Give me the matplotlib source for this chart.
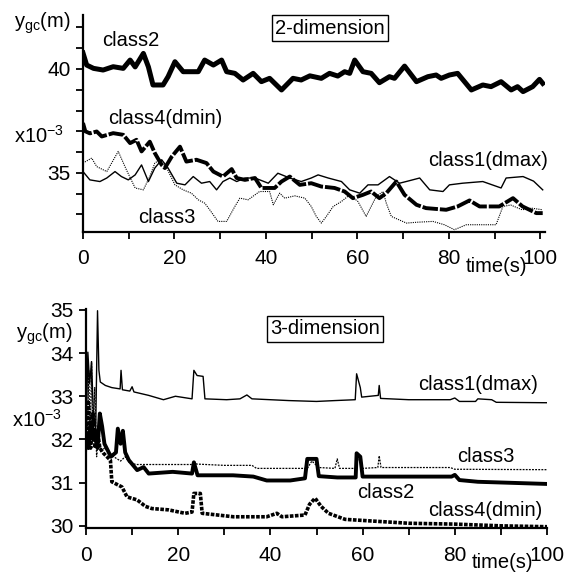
import matplotlib
matplotlib.use('Agg')
import matplotlib.pyplot as plt
from matplotlib.ticker import MultipleLocator, FixedLocator

plt.rcParams['font.family'] = ['Liberation Sans', 'DejaVu Sans']
plt.rcParams['mathtext.default'] = 'regular'

# ---- 2-dimension (top panel) ----
t2_class2 = [0, 0.8, 2.3, 4.4, 6.6, 8.8, 10.3, 11.4, 13.2, 14.3, 15.3, 17.5, 18.6, 20.1,
             21.9, 25.2, 26.6, 28.5, 30.3, 31.4, 33.2, 35, 37.2, 39, 40.8, 43.4, 45.9,
             47.7, 49.6, 52.1, 53.9, 55.7, 57.2, 58.3, 59.4, 61.2, 63, 64.8, 67, 68.1,
             70.3, 72.9, 75.4, 77.2, 78.3, 80.1, 81.9, 83.4, 84.9, 87.4, 89.2, 91.4,
             93.6, 95, 96.2, 98.3, 99.8, 100.5]
y2_class2 = [40.77, 40.19, 40.03, 39.95, 40.11, 40.03, 40.43, 40.1, 40.75, 40.1, 39.23,
             39.23, 39.63, 40.35, 39.87, 39.87, 40.43, 40.19, 40.43, 39.87, 39.79, 39.47,
             39.79, 39.39, 39.55, 38.99, 39.55, 39.47, 39.67, 39.55, 39.79, 39.66, 39.87,
             39.79, 40.43, 39.87, 39.79, 39.34, 39.63, 39.55, 40.14, 39.39, 39.63, 39.71,
             39.55, 39.71, 39.79, 39.39, 38.99, 39.23, 39.15, 39.39, 38.99, 39.15, 38.91,
             39.15, 39.5, 39.31]

t2_class4 = [0, 0.5, 1.5, 3, 4.1, 6.6, 8.8, 10.3, 11.7, 12.8, 14.6, 15.7, 17.2, 17.9,
             19.4, 21.2, 22.6, 24.8, 27, 28.5, 30.6, 32.5, 33.6, 35.4, 37.6, 39, 41.9,
             43.4, 45.2, 47.4, 49.9, 52.1, 55, 57.2, 59, 61.2, 63, 64.8, 66.3, 68.5, 70.3,
             72.9, 75, 79.4, 81.9, 84.5, 86.7, 91, 94, 96.1, 99.1, 100.5]
y2_class4 = [37.4, 37.0, 36.9, 36.99, 36.75, 36.91, 36.83, 36.43, 36.59, 36.03, 36.5,
             35.95, 35.38, 35.23, 35.78, 36.26, 35.54, 35.63, 35.47, 35.06, 34.82, 35.18,
             34.75, 34.66, 34.75, 34.27, 34.27, 34.58, 34.82, 34.42, 34.5, 34.34, 34.27,
             34.1, 33.78, 33.94, 34.1, 33.78, 34.02, 34.58, 33.94, 33.46, 33.3, 33.22,
             33.38, 33.67, 33.38, 33.38, 33.78, 33.38, 33.06, 33.06]

t2_class1 = [0, 1.5, 3.7, 5.2, 7, 8.4, 9.9, 11.4, 12.8, 14.3, 15.7, 17.2, 18.6, 20.5,
             22.3, 24.1, 25.9, 27.7, 29.2, 30.6, 32.1, 33.6, 35.4, 37.6, 40.5, 42.6, 45.2,
             47.7, 49.9, 51.4, 53.6, 56.5, 58.3, 60.5, 62.3, 64.5, 67, 69.2, 71, 73.6,
             75.8, 78.7, 80.1, 83, 87.4, 91.4, 92.5, 96.2, 98.5, 100.5]
y2_class1 = [35.06, 34.66, 34.58, 34.75, 35.06, 34.82, 34.66, 34.9, 35.38, 34.58, 35.23,
             35.63, 35.23, 34.5, 34.42, 34.82, 34.5, 34.58, 34.18, 34.58, 34.75, 34.58,
             34.75, 34.75, 34.5, 34.98, 34.75, 34.58, 34.75, 34.9, 34.75, 34.58, 34.18,
             34.02, 34.42, 34.42, 34.82, 34.5, 34.6, 34.75, 34.18, 34.1, 34.42, 34.5,
             34.58, 34.27, 34.75, 34.82, 34.6, 34.18]

t2_class3 = [0, 1.9, 3, 5.2, 7.7, 9.5, 11.4, 13.2, 14.6, 15.7, 16.8, 18.3, 20.1, 21.9,
             23.7, 25.2, 26.6, 27.7, 29.5, 31.4, 33.2, 34.3, 36.1, 38.6, 40.8, 41.6, 43,
             44.1, 46.3, 48.5, 49.9, 51, 52.1, 53.2, 54.7, 56.5, 58.3, 60.1, 61.9, 63,
             64.1, 65.6, 66.3, 67.4, 70.7, 73, 76.5, 79, 81.2, 83.8, 90.3, 91.8, 93.5, 96,
             98, 100.5]
y2_class3 = [35.47, 35.71, 35.3, 35.06, 36.03, 35.14, 34.27, 34.18, 34.82, 35.47, 35.63,
             35.23, 34.42, 34.18, 34.02, 33.7, 33.54, 33.22, 32.66, 32.66, 33.38, 33.78,
             33.7, 34.1, 34.1, 33.46, 34.02, 33.78, 33.89, 33.78, 33.38, 32.9, 32.58, 32.9,
             33.38, 33.62, 33.94, 33.62, 32.9, 33.38, 33.86, 34.1, 33.54, 32.9, 32.58,
             32.62, 32.66, 32.5, 32.26, 32.5, 32.5, 33.38, 33.45, 33.22, 33.3, 33.22]

# ---- 3-dimension (bottom panel) ----
t3_class1 = [0, 0.4, 0.8, 1.2, 1.6, 2.1, 2.5, 2.8, 3.1, 4.2, 5.6, 7.4, 7.6, 7.9, 9.5, 10,
             10.4, 13.6, 16.8, 19.4, 23, 23.4, 24.1, 25.4, 25.8, 30.5, 33.4, 34.9, 36, 44,
             50, 54, 58.4, 58.7, 59.5, 59.8, 63.4, 63.6, 63.9, 70, 79, 80, 81, 84.5, 85,
             88, 89, 100]
y3_class1 = [31.98, 34.02, 33.3, 33.8, 32.6, 32.2, 34.98, 33.6, 33.33, 33.25, 33.2, 33.17,
             33.6, 33.15, 33.12, 33.22, 33.1, 33.02, 32.92, 33.0, 32.94, 33.6, 33.48, 33.46,
             32.94, 32.92, 32.94, 33.03, 32.94, 32.9, 32.88, 32.9, 32.92, 33.52, 33.2,
             32.98, 33.02, 33.25, 32.95, 32.92, 32.92, 32.96, 32.88, 32.88, 32.94, 32.92,
             32.86, 32.85]

t3_class3 = [0, 0.4, 0.6, 0.9, 1.2, 1.5, 1.9, 2.3, 2.7, 3.2, 4, 5, 6, 7.5, 8.5, 9.5, 11,
             20, 23, 23.4, 24, 30, 36, 37, 48, 49, 50.5, 54, 54.5, 55, 58.5, 59, 60, 63.3,
             63.6, 64, 79, 80, 100]
y3_class3 = [31.5, 32.5, 33.6, 31.8, 33.8, 32.0, 33.2, 31.6, 32.1, 31.7, 31.8, 31.7, 31.6,
             31.5, 31.6, 31.45, 31.42, 31.42, 31.42, 31.5, 31.43, 31.4, 31.4, 31.33, 31.33,
             31.5, 31.35, 31.33, 31.55, 31.33, 31.33, 31.6, 31.33, 31.35, 31.62, 31.35,
             31.35, 31.31, 31.3]

t3_class2 = [0, 0.5, 1, 1.5, 2, 2.5, 3, 3.5, 4, 5.4, 6.5, 6.9, 7.5, 8, 8.5, 9.3, 11.1,
             12.5, 13.6, 18.8, 23, 23.4, 24.2, 31.9, 36.3, 39.2, 44.3, 47.5, 48, 50, 50.5,
             54.5, 58.5, 58.7, 59.5, 60, 63.4, 79.3, 80, 81, 85, 100]
y3_class2 = [32.06, 31.8, 32.4, 32.0, 32.2, 31.8, 32.6, 32.3, 31.9, 31.6, 31.7, 32.25,
             31.9, 32.2, 31.7, 31.52, 31.29, 31.36, 31.21, 31.25, 31.21, 31.47, 31.17,
             31.17, 31.14, 31.05, 31.05, 31.1, 31.55, 31.55, 31.15, 31.12, 31.12, 31.68,
             31.6, 31.14, 31.14, 31.14, 31.18, 31.06, 31.02, 30.97]

t3_class4 = [0, 0.5, 1, 1.5, 2, 2.5, 3, 3.8, 5.3, 5.6, 7.8, 8.9, 11.1, 12.9, 14.3, 17.9,
             21.5, 23, 23.4, 24.8, 25.2, 32, 39.2, 41.4, 42.5, 47.5, 48.5, 49.7, 51, 52.6,
             56.2, 63.8, 70, 80, 90, 100]
y3_class4 = [31.98, 32.9, 31.8, 32.6, 31.8, 32.2, 31.8, 31.68, 31.52, 31.02, 30.9, 30.67,
             30.6, 30.45, 30.4, 30.37, 30.29, 30.32, 30.75, 30.75, 30.29, 30.21, 30.21,
             30.29, 30.21, 30.25, 30.5, 30.64, 30.45, 30.29, 30.15, 30.1, 30.06, 30.04,
             30.0, 29.98]

W, H = 569, 586


def fx(px):
    return px / W


def fy(py):
    return 1 - py / H


def style_axes(ax, xpad):
    for side in ['top', 'right']:
        ax.spines[side].set_visible(False)
    for side in ['left', 'bottom']:
        ax.spines[side].set_linewidth(1.6)
    ax.tick_params(which='both', direction='out', length=5, width=1.3,
                   labelsize=15, pad=4)
    ax.tick_params(axis='x', which='both', pad=xpad)
    ax.xaxis.set_major_locator(MultipleLocator(20))
    ax.xaxis.set_minor_locator(MultipleLocator(10))


fig = plt.figure(figsize=(W / 100, H / 100), dpi=100)

# top panel
ax1 = fig.add_axes([fx(83), fy(232), fx(545) - fx(83), fy(15) - fy(232)])
style_axes(ax1, 7)
ax1.plot(t2_class2, y2_class2, color='black', lw=3.6, solid_joinstyle='round')
ax1.plot(t2_class4, y2_class4, color='black', lw=2.8, linestyle=(0, (4, 0.5)))
ax1.plot(t2_class1, y2_class1, color='black', lw=1.0)
ax1.plot(t2_class3, y2_class3, color='black', lw=0.8, linestyle=(0, (1, 1)))
ax1.set_xlim(0, 101)
ax1.set_ylim(32.15, 42.6)
ax1.yaxis.set_major_locator(FixedLocator([35, 40]))
ax1.yaxis.set_minor_locator(MultipleLocator(1))

# bottom panel
ax2 = fig.add_axes([fx(86), fy(528), fx(547) - fx(86), fy(309) - fy(528)])
style_axes(ax2, 8)
ax2.plot(t3_class1, y3_class1, color='black', lw=1.0)
ax2.plot(t3_class3, y3_class3, color='black', lw=0.9, linestyle=(0, (1.5, 1)))
ax2.plot(t3_class2, y3_class2, color='black', lw=2.8)
ax2.plot(t3_class4, y3_class4, color='black', lw=2.6, linestyle=(0, (1, 0.4)))
ax2.set_xlim(0, 100)
ax2.set_ylim(29.95, 35.02)
ax2.yaxis.set_major_locator(MultipleLocator(1))

lab = dict(fontsize=14.5, color='black', va='center')
box = dict(boxstyle='square,pad=0.15', facecolor='white', edgecolor='black', lw=1.0)

# top panel texts
fig.text(fx(14), fy(23), r'y$_{gc}$(m)', ha='left', **lab)
fig.text(fx(14), fy(136), r'x10$^{-3}$', ha='left', **lab)
fig.text(fx(131), fy(40), 'class2', ha='center', **lab)
fig.text(fx(165), fy(118), 'class4(dmin)', ha='center', **lab)
fig.text(fx(167), fy(217), 'class3', ha='center', **lab)
fig.text(fx(488), fy(160), 'class1(dmax)', ha='center', **lab)
fig.text(fx(497), fy(267), 'time(s)', ha='center', **lab)
fig.text(fx(330), fy(28), '2-dimension', ha='center', fontsize=14.5, va='center', bbox=box)

# bottom panel texts
fig.text(fx(16), fy(334), r'y$_{gc}$(m)', ha='left', **lab)
fig.text(fx(12), fy(420), r'x10$^{-3}$', ha='left', **lab)
fig.text(fx(478), fy(384), 'class1(dmax)', ha='center', **lab)
fig.text(fx(486), fy(456), 'class3', ha='center', **lab)
fig.text(fx(386), fy(492), 'class2', ha='center', **lab)
fig.text(fx(485), fy(510), 'class4(dmin)', ha='center', **lab)
fig.text(fx(502), fy(562), 'time(s)', ha='center', **lab)
fig.text(fx(325), fy(329), '3-dimension', ha='center', fontsize=14.5, va='center', bbox=box)

fig.savefig('out.png', dpi=100)
